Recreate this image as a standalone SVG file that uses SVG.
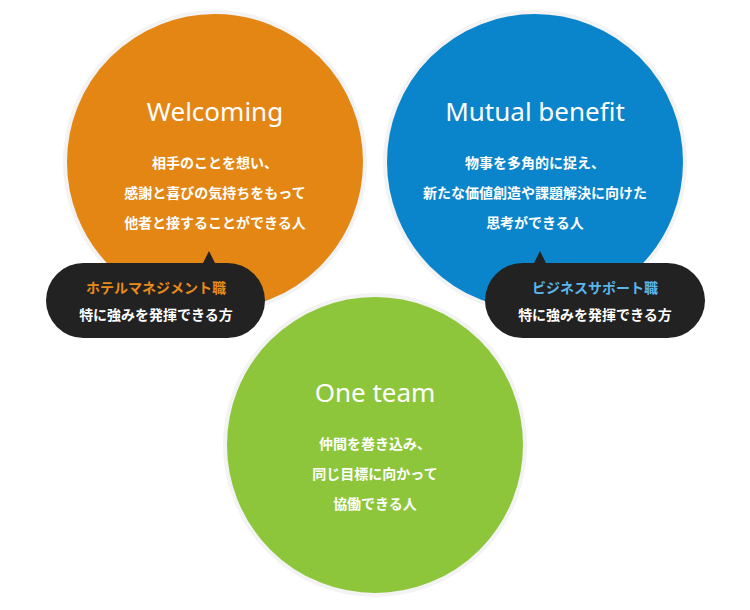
<svg xmlns="http://www.w3.org/2000/svg" width="750" height="610" viewBox="0 0 750 610">
<style>
.c{stroke:#f3f3f3;stroke-width:4}
.t{font-family:"Noto Sans","Noto Sans CJK JP",sans-serif;fill:#fff;text-anchor:middle}
.h{font-size:26px}
.b{font-size:14px;font-weight:bold}
.l{font-size:14px;font-weight:bold}
</style>
<rect width="750" height="610" fill="#fff"/>
<g id="welcoming">
<circle class="c" cx="215" cy="162" r="150" fill="#e38614"/>
<text class="t h" x="215" y="121">Welcoming</text>
<text class="t b" x="215" y="168">相手のことを想い、</text>
<text class="t b" x="215" y="198">感謝と喜びの気持ちをもって</text>
<text class="t b" x="215" y="228">他者と接することができる人</text>
</g>
<g id="mutual">
<circle class="c" cx="535" cy="162" r="150" fill="#0a85cb"/>
<text class="t h" x="535" y="121">Mutual benefit</text>
<text class="t b" x="535" y="168">物事を多角的に捉え、</text>
<text class="t b" x="535" y="198">新たな価値創造や課題解決に向けた</text>
<text class="t b" x="535" y="228">思考ができる人</text>
</g>
<g id="oneteam">
<circle class="c" cx="375" cy="445" r="150" fill="#8dc63a"/>
<text class="t h" x="375" y="402">One team</text>
<text class="t b" x="375" y="449">仲間を巻き込み、</text>
<text class="t b" x="375" y="479">同じ目標に向かって</text>
<text class="t b" x="375" y="509">協働できる人</text>
</g>
<g id="hotel">
<path d="M202 265 L209 251 L216 265 Z" fill="#222"/>
<rect x="46" y="263" width="219" height="75" rx="37.5" fill="#222"/>
<text class="t l" x="156" y="293" style="fill:#e88b1a">ホテルマネジメント職</text>
<text class="t l" x="156" y="320">特に強みを発揮できる方</text>
</g>
<g id="business">
<path d="M533 265 L540 251 L547 265 Z" fill="#222"/>
<rect x="485" y="263" width="220" height="75" rx="37.5" fill="#222"/>
<text class="t l" x="595" y="293" style="fill:#5bb6ec">ビジネスサポート職</text>
<text class="t l" x="595" y="320">特に強みを発揮できる方</text>
</g>
<g id="connectors"/>
</svg>
